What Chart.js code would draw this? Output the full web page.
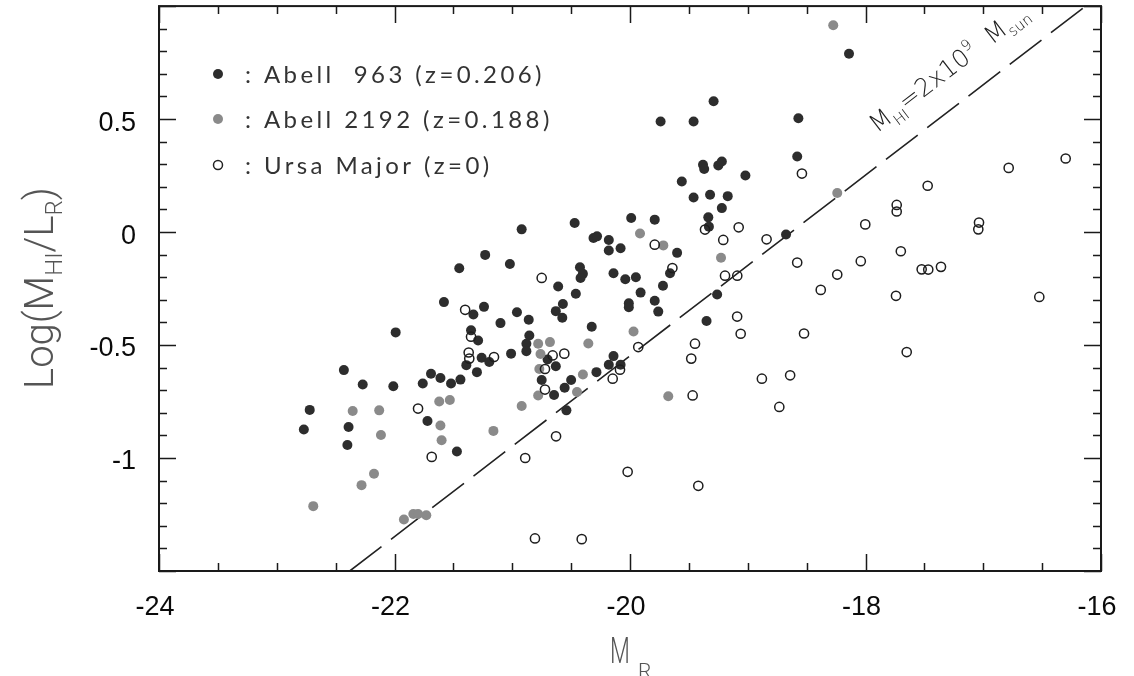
<!DOCTYPE html>
<html><head><meta charset="utf-8">
<script src="https://cdn.jsdelivr.net/npm/chart.js@4.4.1/dist/chart.umd.min.js"></script>
<style>html,body{margin:0;padding:0;background:#fff;}#wrap{width:1134px;height:676px;}</style>
</head><body><div id="wrap"><canvas id="c" width="1134" height="676"></canvas></div>
<script>
// ---- data ----
const abell963M = [-21.45,-21.58,-21.33,-21.99,-21.35,-21.29,-21.39,-21.30,-22.43,-22.27,-22.01,-21.76,-21.69,-21.61,-21.52,-21.44,-22.72,-22.77,-22.39,-22.40,-21.72,-21.47,
 -20.92,-21.23,-21.02,-20.47,-19.99,-19.79,-20.31,-20.28,-20.18,-20.18,-20.08,-19.335,-19.22,-19.33,-19.60,-20.425,-20.40,-20.42,-20.14,-20.04,-19.95,-19.66,
 -20.61,-20.46,-19.91,-19.72,-20.57,-20.63,-20.575,-20.01,-20.01,-19.79,-19.76,-19.26,-19.35,-18.675,-21.24,-20.96,-20.86,-21.10,-20.325,-20.855,-20.88,-20.88,
 -21.26,-21.195,-21.01,-20.70,-20.63,-20.75,-20.645,-20.555,-20.50,-20.285,-20.14,-20.18,-20.08,-20.54,
 -19.74,-19.46,-19.29,-18.57,-18.58,-19.38,-19.37,-19.25,-19.22,-19.02,-19.56,-19.46,-19.32,-19.17,-18.14];
const abell963Y = [-0.16,-0.31,-0.365,-0.444,-0.435,-0.48,-0.589,-0.62,-0.611,-0.675,-0.682,-0.67,-0.627,-0.646,-0.67,-0.653,-0.787,-0.874,-0.863,-0.942,-0.836,-0.971,
 0.012,-0.101,-0.141,0.04,0.062,0.055,-0.026,-0.019,-0.035,-0.082,-0.072,0.065,0.106,0.024,-0.092,-0.156,-0.185,-0.203,-0.182,-0.209,-0.20,-0.182,
 -0.241,-0.273,-0.268,-0.238,-0.318,-0.35,-0.379,-0.315,-0.333,-0.304,-0.352,-0.276,-0.394,-0.011,-0.331,-0.355,-0.388,-0.403,-0.419,-0.458,-0.494,-0.527,
 -0.556,-0.575,-0.538,-0.564,-0.594,-0.655,-0.721,-0.689,-0.655,-0.62,-0.549,-0.587,-0.587,-0.789,
 0.489,0.489,0.579,0.504,0.334,0.298,0.279,0.295,0.312,0.25,0.224,0.153,0.165,0.159,0.789];

const abell2192M = [-22.355,-22.13,-22.115,-21.62,-21.53,-21.61,-21.60,-22.174,-22.28,-22.69,-21.92,-21.84,-21.80,-21.73,
 -19.915,-19.717,-19.227,-19.97,-20.354,-20.78,-20.68,-20.76,-20.77,-20.40,-20.45,-20.78,-20.92,-21.16,-19.675,-18.24,-18.274];
const abell2192Y = [-0.792,-0.789,-0.898,-0.75,-0.743,-0.856,-0.921,-1.07,-1.12,-1.213,-1.272,-1.248,-1.248,-1.253,
 -0.006,-0.059,-0.114,-0.44,-0.493,-0.494,-0.487,-0.54,-0.606,-0.63,-0.708,-0.723,-0.77,-0.88,-0.727,0.173,0.915];

const ursaM = [-21.40,-21.35,-21.37,-21.365,-21.80,-21.684,-21.155,-20.75,-19.79,-19.64,-19.363,-19.208,-19.077,-18.84,-19.193,-19.089,-18.58,-19.09,-19.06,-19.448,
 -19.48,-19.93,-20.085,-20.147,-20.657,-20.558,-20.722,-20.722,-18.88,-18.64,-18.732,-19.468,-20.628,-20.89,-20.02,-19.42,-20.807,-20.41,
 -18.54,-16.784,-16.30,-17.472,-17.735,-17.735,-18.002,-17.036,-17.042,-17.70,-18.04,-18.24,-18.38,-17.523,-17.467,-17.359,-17.741,-16.524,-18.522,-17.65];
const ursaY = [-0.344,-0.463,-0.533,-0.56,-0.781,-0.995,-0.553,-0.203,-0.056,-0.159,0.011,-0.035,0.021,-0.032,-0.193,-0.193,-0.135,-0.374,-0.45,-0.494,
 -0.56,-0.509,-0.609,-0.649,-0.546,-0.538,-0.606,-0.697,-0.649,-0.634,-0.774,-0.723,-0.904,-1.0,-1.061,-1.123,-1.356,-1.359,
 0.259,0.284,0.3255,0.205,0.12,0.091,0.034,0.042,0.012,-0.085,-0.129,-0.188,-0.256,-0.165,-0.166,-0.154,-0.282,-0.287,-0.449,-0.531];

// constant-HI-mass line endpoints (M_HI = 2x10^9 Msun)
const hiLineM = [-22.38, -16.13];
const hiLineY = [-1.5, 1.0];

const xRange = [-24, -16];
const yRange = [-1.5, 1.0];
const xTickValues = [-24, -22, -20, -18, -16];
const xTickLabels = ['-24', '-22', '-20', '-18', '-16'];
const yTickValues = [-1, -0.5, 0, 0.5];
const yTickLabels = ['-1', '-0.5', '0', '0.5'];
const legendLabels = [': Abell  963 (z=0.206)', ': Abell 2192 (z=0.188)', ': Ursa Major (z=0)'];

const pts = (xs, ys) => xs.map((v, i) => ({x: v, y: ys[i]}));

const DARK = '#2d2d2d', GRAY = '#8a8a8a';

const decor = {
  id: 'decor',
  afterDatasetsDraw(chart) {
    const {ctx, chartArea: a, scales: {x, y}} = chart;
    ctx.save();
    // frame
    ctx.strokeStyle = '#1a1a1a';
    ctx.lineWidth = 2;
    ctx.strokeRect(a.left, a.top, a.right - a.left, a.bottom - a.top);
    // ticks (inward)
    ctx.lineWidth = 1.5;
    ctx.beginPath();
    for (let i = 0; i <= 16; i++) {
      const v = xRange[0] + i * 0.5;
      const px = Math.round(x.getPixelForValue(v)) + 0.5;
      const L = (i % 4 === 0) ? 17 : 8;
      ctx.moveTo(px, a.bottom); ctx.lineTo(px, a.bottom - L);
      ctx.moveTo(px, a.top); ctx.lineTo(px, a.top + L);
    }
    for (let i = 0; i <= 25; i++) {
      const v = yRange[0] + i * 0.1;
      const py = Math.round(y.getPixelForValue(v)) + 0.5;
      const L = (i % 5 === 0) ? 17 : 8;
      ctx.moveTo(a.left, py); ctx.lineTo(a.left + L, py);
      ctx.moveTo(a.right, py); ctx.lineTo(a.right - L, py);
    }
    ctx.stroke();

    // legend
    const lx = 218, ly = [74, 119, 165];
    const styles = [{f: DARK}, {f: GRAY}, {o: true}];
    styles.forEach((s, i) => {
      ctx.beginPath();
      ctx.arc(lx, ly[i], s.o ? 4.5 : 5, 0, Math.PI * 2);
      if (s.o) { ctx.lineWidth = 1.5; ctx.strokeStyle = '#222'; ctx.stroke(); }
      else { ctx.fillStyle = s.f; ctx.fill(); }
    });
    ctx.fillStyle = '#333';
    ctx.font = '24px "Lato"';
    ctx.textBaseline = 'middle';
    ctx.textAlign = 'left';
    const w0 = ctx.measureText(legendLabels[0]).width;
    const ls = (300 - w0) / legendLabels[0].length;
    ctx.letterSpacing = ls.toFixed(2) + 'px';
    legendLabels.forEach((t, i) => ctx.fillText(t, 245, ly[i] + 1));
    ctx.letterSpacing = '0px';

    // rich text helper
    const rich = (parts) => {
      let w = 0;
      parts.forEach(p => { ctx.font = p.f; p.w = ctx.measureText(p.t).width; w += p.w; });
      return w;
    };
    const drawRich = (parts, x0, y0) => {
      let cx = x0;
      parts.forEach(p => { ctx.font = p.f; ctx.fillText(p.t, cx, y0 + (p.dy || 0)); cx += p.w; });
    };

    // line label
    const p0x = x.getPixelForValue(hiLineM[0]), p0y = y.getPixelForValue(hiLineY[0]);
    const p1x = x.getPixelForValue(hiLineM[1]), p1y = y.getPixelForValue(hiLineY[1]);
    const ang = Math.atan2(p1y - p0y, p1x - p0x);
    const len = Math.hypot(p1x - p0x, p1y - p0y);
    const ux = (p1x - p0x) / len, uy = (p1y - p0y) / len;
    const t = 0.738, off = 26;
    const bx = p0x + (p1x - p0x) * t + uy * off;
    const by = p0y + (p1y - p0y) * t - ux * off;
    ctx.save();
    ctx.translate(bx, by);
    ctx.rotate(ang);
    ctx.fillStyle = '#222';
    ctx.textBaseline = 'alphabetic';
    const big = '300 25px "DejaVu Sans"', small = '300 15px "DejaVu Sans"';
    const lab = [{t: 'M', f: big}, {t: 'HI', f: small, dy: 7}, {t: '=2x10', f: big}, {t: '9', f: small, dy: -11},
                 {t: '  M', f: big}, {t: 'sun', f: small, dy: 6}];
    const lw = rich(lab);
    const sc = 193 / lw;
    ctx.scale(sc, sc);
    drawRich(lab, 0, 0);
    ctx.restore();

    // axis titles
    ctx.fillStyle = '#555';
    ctx.textBaseline = 'alphabetic';
    const tb = '300 40px "Roboto"', ts = '300 24px "Roboto"';
    const yt = [{t: 'Log(M', f: tb}, {t: 'HI', f: ts, dy: 9}, {t: '/L', f: tb}, {t: 'R', f: ts, dy: 9}, {t: ')', f: tb}];
    const yw = rich(yt);
    ctx.save();
    ctx.translate(53, 288);
    ctx.rotate(-Math.PI / 2);
    drawRich(yt, -yw / 2, 0);
    ctx.restore();

    const xtb = '300 37px "Roboto"', xts = '300 21px "Roboto"';
    const xt = [{t: 'M', f: xtb}, {t: 'R', f: xts, dy: 15}];
    rich(xt);
    ctx.save();
    ctx.translate(610, 663);
    ctx.scale(0.62, 1);
    ctx.font = xtb; ctx.fillText('M', 0, 0);
    ctx.restore();
    ctx.font = xts;
    ctx.fillText('R', 638, 678);
    ctx.restore();
  }
};

new Chart(document.getElementById('c'), {
  type: 'scatter',
  data: {
    datasets: [
      {label: 'Ursa Major (z=0)', data: pts(ursaM, ursaY), pointRadius: 4.6, pointBorderWidth: 1.5,
       borderColor: '#1e1e1e', backgroundColor: 'rgba(255,255,255,0)', order: 0},
      {label: 'Abell 2192 (z=0.188)', data: pts(abell2192M, abell2192Y), pointRadius: 5, pointBorderWidth: 0,
       borderColor: GRAY, backgroundColor: GRAY, order: 1},
      {label: 'Abell 963 (z=0.206)', data: pts(abell963M, abell963Y), pointRadius: 5, pointBorderWidth: 0,
       borderColor: DARK, backgroundColor: DARK, order: 2},
      {type: 'line', label: 'HI line', data: pts(hiLineM, hiLineY), borderColor: '#222', borderWidth: 1.6,
       borderDash: [40, 12], pointRadius: 0, fill: false, showLine: true, order: 3}
    ]
  },
  options: {
    responsive: false,
    animation: false,
    devicePixelRatio: 1,
    layout: {padding: {top: 5, right: 33, left: 0, bottom: 0}},
    plugins: {legend: {display: false}, tooltip: {enabled: false}},
    scales: {
      x: {
        type: 'linear', min: xRange[0], max: xRange[1],
        afterBuildTicks: s => { s.ticks = xTickValues.map(v => ({value: v})); },
        afterFit: s => { s.height = 105; s.paddingLeft = 0; s.paddingRight = 0; s.paddingTop = 0; s.paddingBottom = 0; },
        grid: {display: false, drawTicks: false}, border: {display: false},
        ticks: {autoSkip: false, maxRotation: 0, padding: 20, labelOffset: -4, color: '#0a0a0a',
                font: {family: '"Liberation Sans"', size: 27},
                callback: (v, i) => xTickLabels[i]}
      },
      y: {
        type: 'linear', min: yRange[0], max: yRange[1],
        afterBuildTicks: s => { s.ticks = yTickValues.map(v => ({value: v})); },
        afterFit: s => { s.width = 159; s.paddingTop = 0; s.paddingBottom = 0; s.paddingLeft = 0; s.paddingRight = 0; },
        grid: {display: false, drawTicks: false}, border: {display: false},
        ticks: {autoSkip: false, padding: 23, labelOffset: 4, color: '#0a0a0a',
                font: {family: '"Liberation Sans"', size: 27},
                callback: (v, i) => yTickLabels[i]}
      }
    }
  },
  plugins: [decor]
});
</script>
</body></html>
